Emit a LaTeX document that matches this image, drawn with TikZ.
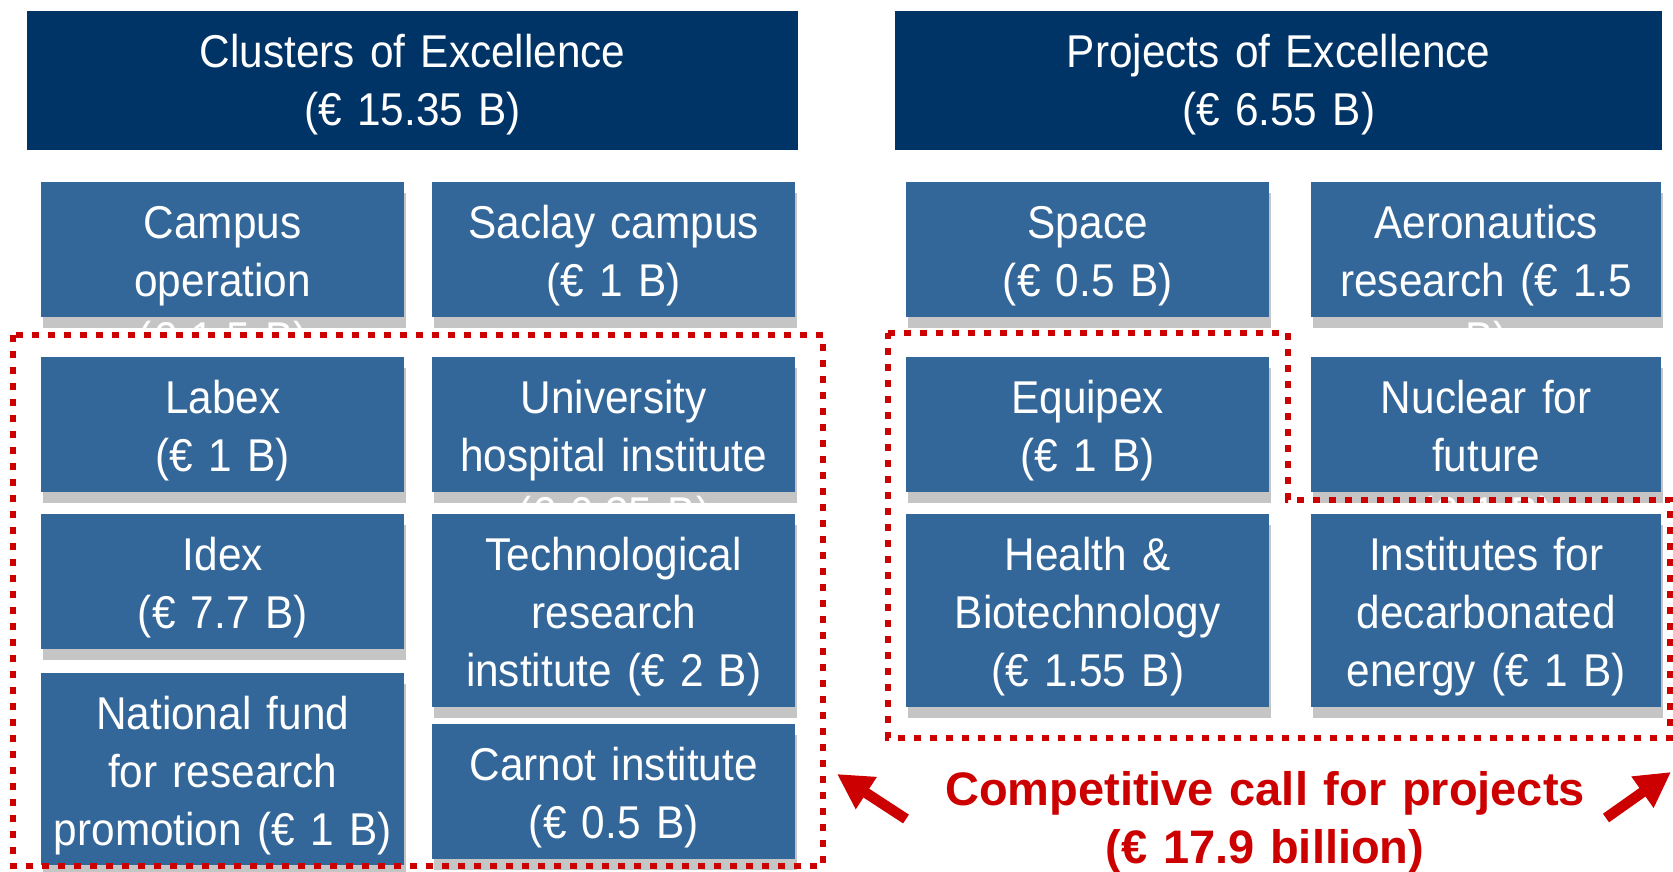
\documentclass[tikz,border=0pt]{standalone}
\usepackage{fontspec}
\setmainfont{Liberation Sans}
\newfontfamily\narrowfont{Liberation Sans}[FakeStretch=0.92]
\usetikzlibrary{arrows.meta, shadows}

\definecolor{headnavy}{RGB}{0,51,102}
\definecolor{boxblue}{RGB}{51,102,153}
\definecolor{callred}{RGB}{204,0,0}

\begin{document}
\begin{tikzpicture}[
  x=1pt, y=-1pt,
  headbox/.style={
    fill=headnavy,
    text=white,
    anchor=north west,
    inner sep=0pt,
    text width=#1,
    align=center,
    text height=56pt,
    text depth=83pt,
    font={\narrowfont\fontsize{46}{58}\selectfont\spaceskip=0.22em\relax}
    },
  fundbox/.style 2 args={
    fill=boxblue,
    text=white,
    anchor=north west,
    inner sep=0pt,
    text width=#1,
    align=center,
    text height=56pt,
    text depth=#2,
    font={\narrowfont\fontsize{46}{58}\selectfont\spaceskip=0.22em\relax},
    drop shadow={shadow xshift=2pt, shadow yshift=-11pt, fill=black!45, opacity=0.5}
    },
  calldots/.style={draw=callred, line width=6.5pt, dash pattern=on 7pt off 9pt},
  callarrow/.style={draw=callred, line width=10.5pt, -{Triangle[width=36pt, length=35pt]}}
]

\fill[white] (0,0) rectangle (1673,871);
\useasboundingbox (0,0) rectangle (1673,871);

% headers
\node[headbox=771pt] (clusters) at (27,11) {Clusters of Excellence\\(€ 15.35 B)};
\node[headbox=767pt] (projects) at (895,11) {Projects of Excellence\\(€ 6.55 B)};

% first row
\node[fundbox={363pt}{79pt}] (campus) at (41,182) {Campus\\operation\\(€ 1.5 B)};
\node[fundbox={363pt}{79pt}] (saclay) at (432,182) {Saclay campus\\(€ 1 B)};
\node[fundbox={363pt}{79pt}] (space) at (906,182) {Space\\(€ 0.5 B)};
\node[fundbox={350pt}{79pt}] (aero) at (1311,182) {Aeronautics\\research (€ 1.5\\B)};

% second row
\node[fundbox={363pt}{79pt}] (labex) at (41,357) {Labex\\(€ 1 B)};
\node[fundbox={363pt}{79pt}] (hospital) at (432,357) {University\\hospital institute\\(€ 0.35 B)};
\node[fundbox={363pt}{79pt}] (equipex) at (906,357) {Equipex\\(€ 1 B)};
\node[fundbox={350pt}{79pt}] (nuclear) at (1311,357) {Nuclear for\\future\\(€ 1 B)};

% third row
\node[fundbox={363pt}{79pt}] (idex) at (41,514) {Idex\\(€ 7.7 B)};
\node[fundbox={363pt}{137pt}] (techno) at (432,514) {Technological\\research\\institute (€ 2 B)};
\node[fundbox={363pt}{137pt}] (health) at (906,514) {Health \&\\Biotechnology\\(€ 1.55 B)};
\node[fundbox={350pt}{137pt}] (decarb) at (1311,514) {Institutes for\\decarbonated\\energy (€ 1 B)};

% last row
\node[fundbox={363pt}{136pt}] (natfund) at (41,673) {National fund\\for research\\promotion (€ 1 B)};
\node[fundbox={363pt}{79pt}] (carnot) at (432,724) {Carnot institute\\(€ 0.5 B)};

% competitive calls
\draw[calldots] (13,335) rectangle (823,866);
\draw[calldots] (888,333) -- (1288,333) -- (1288,500) -- (1670,500) -- (1670,738) -- (888,738) -- cycle;

\node[anchor=base, inner sep=0pt, text width=700pt, align=center, text=callred,
  font={\bfseries\fontsize{47}{58}\selectfont\spaceskip=0.24em\relax}] (call) at (1265,805)
  {Competitive call for projects\\(€ 17.9 billion)};

\coordinate (lefttail) at (906,819);
\coordinate (lefthead) at (837,774);
\coordinate (righttail) at (1606,818);
\coordinate (righthead) at (1671,772);
\draw[callarrow] (lefttail) -- (lefthead);
\draw[callarrow] (righttail) -- (righthead);

\end{tikzpicture}
\end{document}
